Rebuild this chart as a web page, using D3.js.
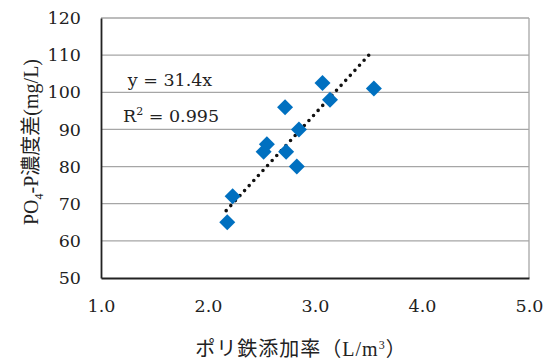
<!DOCTYPE html>
<html lang="ja">
<head>
<meta charset="UTF-8">
<title>PO4-P濃度差</title>
<script src="https://cdn.jsdelivr.net/npm/d3@7"></script>
<style>
    body{ margin:0; background:#fff; }
    text{ font-family: "DejaVu Serif", "Liberation Serif", "Noto Sans CJK JP", serif; fill:#222; }
    .jp{ font-family: "Liberation Serif", "Noto Sans CJK JP", serif; }
</style>
</head>
<body>
<svg id="chart" width="547" height="362"></svg>
<script>
    // data
    let dose = [2.18, 2.23, 2.55, 2.52, 2.72, 2.73, 2.85, 2.83, 3.07, 3.14, 3.55]
    let po4 = [65, 72, 86, 84, 96, 84, 90, 80, 102.5, 98, 101]
    let x_ticks = [1.0, 2.0, 3.0, 4.0, 5.0]
    let y_ticks = [50, 60, 70, 80, 90, 100, 110, 120]
    let slope = 31.4
    let trend_range = [2.17, 3.52]

    let svg = d3.select("#chart")

    let x_scale = d3.scaleLinear().domain([1, 5]).range([101, 529])
    let y_scale = d3.scaleLinear().domain([50, 120]).range([278, 18])

    // grid lines
    svg.append("g")
        .selectAll("line")
        .data(y_ticks.slice(1))
        .join("line")
        .attr("x1", x_scale(1)).attr("x2", x_scale(5))
        .attr("y1", d => y_scale(d)).attr("y2", d => y_scale(d))
        .attr("stroke", "#a6a6a6")
        .attr("stroke-width", 1.3)

    // right border
    svg.append("line")
        .attr("x1", x_scale(5)).attr("x2", x_scale(5))
        .attr("y1", y_scale(50)).attr("y2", y_scale(120))
        .attr("stroke", "#a6a6a6")
        .attr("stroke-width", 1.3)

    // axes
    let x_axis = d3.axisBottom(x_scale).tickValues(x_ticks).tickSize(0).tickPadding(22).tickFormat(d3.format(".1f"))
    let y_axis = d3.axisLeft(y_scale).tickValues(y_ticks).tickSize(0).tickPadding(20)

    let gx = svg.append("g").attr("transform", `translate(0,${y_scale(50)})`).call(x_axis)
    let gy = svg.append("g").attr("transform", `translate(${x_scale(1)},0)`).call(y_axis)
    ;[gx, gy].forEach(g => {
        g.select(".domain").attr("stroke", "#222").attr("stroke-width", 1.8)
        g.selectAll("text").style("font-size", "17.5px").attr("fill", "#222")
            .style("font-family", '"DejaVu Serif", serif')
    })

    // trend line y = 31.4x
    svg.append("line")
        .attr("x1", x_scale(trend_range[0])).attr("y1", y_scale(slope * trend_range[0]))
        .attr("x2", x_scale(trend_range[1])).attr("y2", y_scale(slope * trend_range[1]))
        .attr("stroke", "#111")
        .attr("stroke-width", 3.6)
        .attr("stroke-linecap", "round")
        .attr("stroke-dasharray", "0 6.8")

    // points
    let diamond = d3.symbol().type(d3.symbolSquare).size(128)
    svg.append("g")
        .selectAll("path")
        .data(dose.map((d, i) => [d, po4[i]]))
        .join("path")
        .attr("d", diamond)
        .attr("transform", d => `translate(${x_scale(d[0])},${y_scale(d[1])}) rotate(45)`)
        .attr("fill", "#0070c0")

    // equation labels
    svg.append("text").attr("x", 170).attr("y", 86).attr("text-anchor", "middle")
        .style("font-size", "17.5px").text("y = 31.4x")
    let r2 = svg.append("text").attr("x", 171).attr("y", 122).attr("text-anchor", "middle")
        .style("font-size", "17.5px")
    r2.append("tspan").text("R")
    r2.append("tspan").attr("dy", -7).style("font-size", "11px").text("2")
    r2.append("tspan").attr("dy", 7).text(" = 0.995")

    // axis titles
    let xt = svg.append("text").attr("class", "jp").attr("x", 301).attr("y", 356)
        .attr("text-anchor", "middle").style("font-size", "20px").style("letter-spacing", "1px")
    xt.append("tspan").text("ポリ鉄添加率（L/m")
    xt.append("tspan").attr("dy", -7).style("font-size", "12px").text("3")
    xt.append("tspan").attr("dy", 7).text("）")

    let yt = svg.append("text").attr("class", "jp")
        .attr("transform", "translate(38,142) rotate(-90)")
        .attr("text-anchor", "middle").style("font-size", "20px")
    yt.append("tspan").text("PO")
    yt.append("tspan").attr("dy", 5).style("font-size", "12px").text("4")
    yt.append("tspan").attr("dy", -5).text("-P濃度差(mg/L)")
</script>
</body>
</html>
